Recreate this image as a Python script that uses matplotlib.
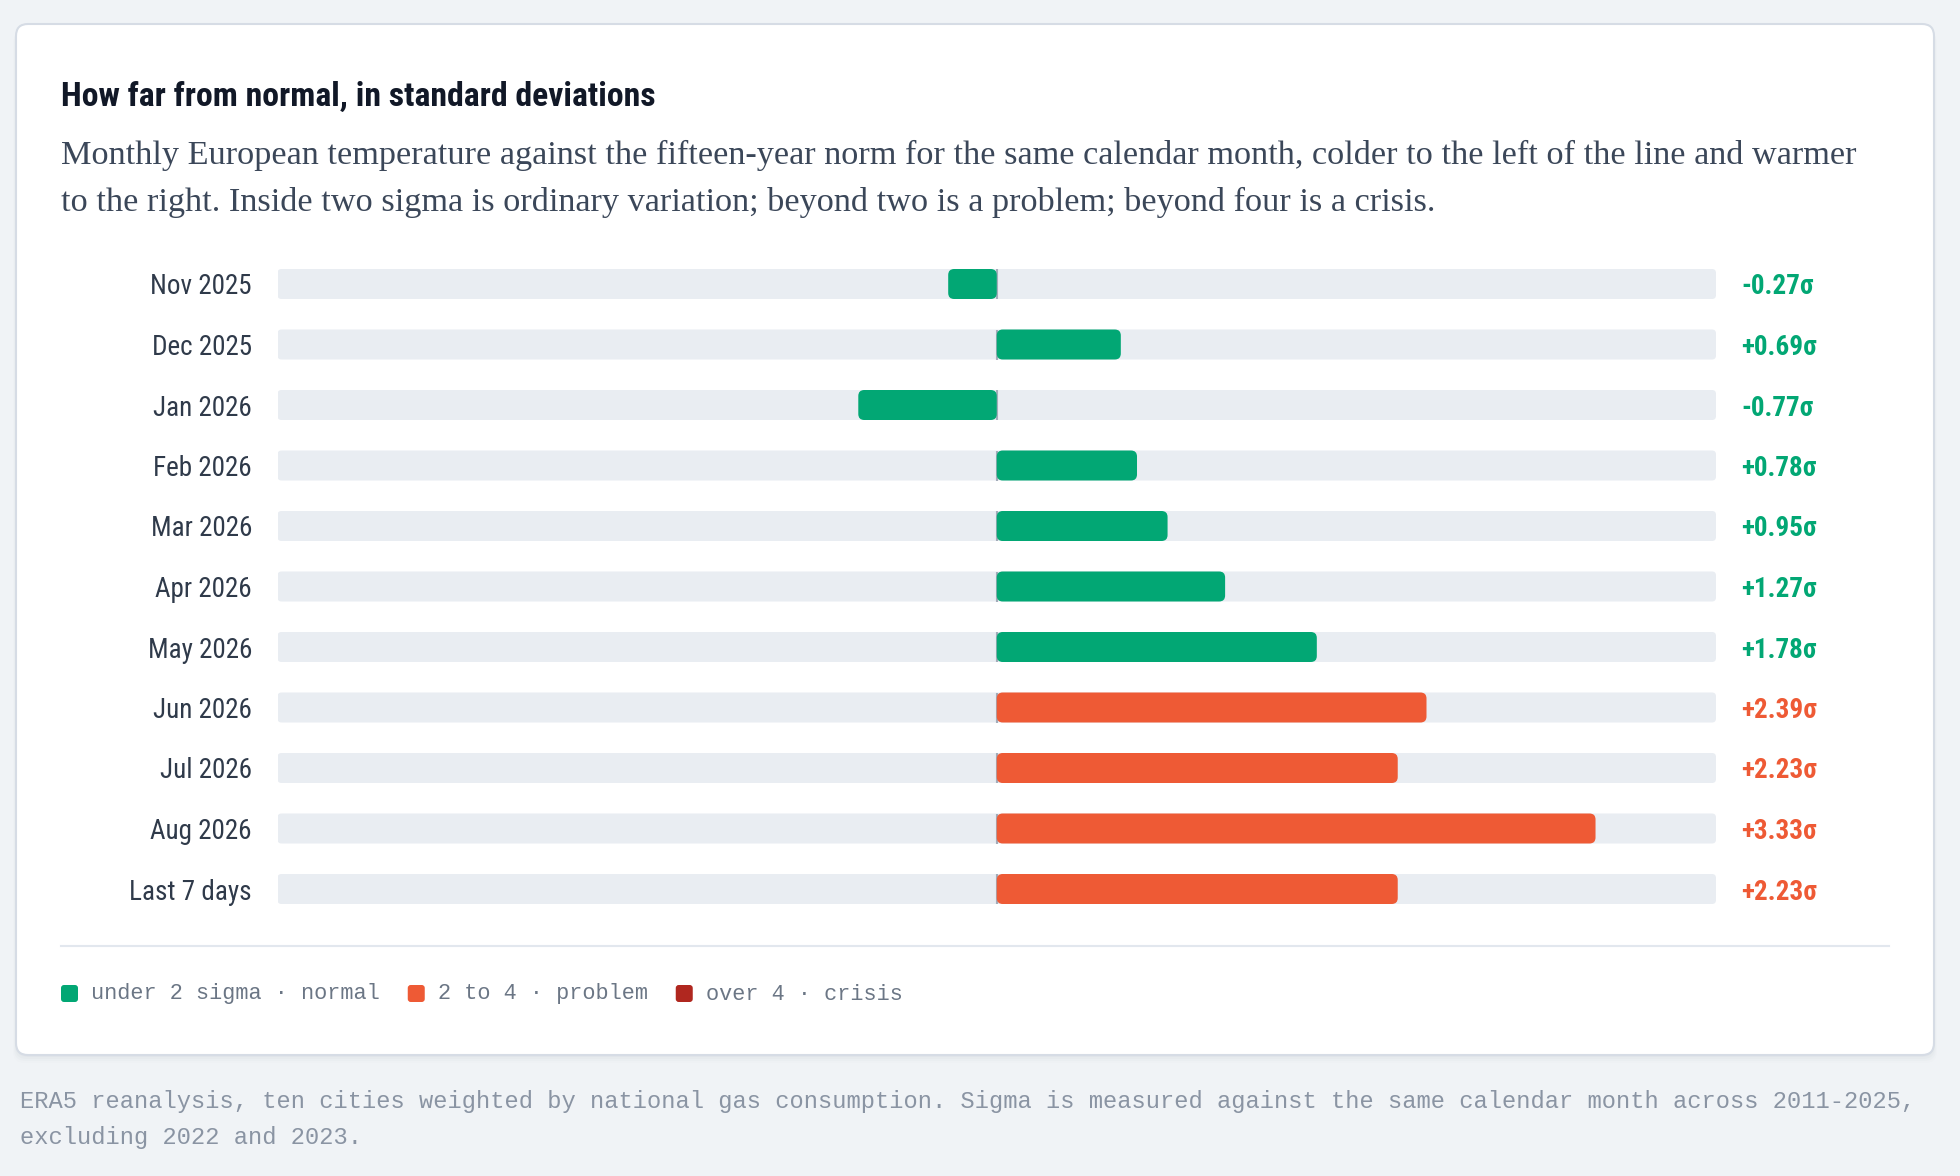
import matplotlib
matplotlib.use("Agg")
import matplotlib.pyplot as plt
from matplotlib import font_manager
from matplotlib.patches import FancyBboxPatch

# data
months = ["Nov 2025", "Dec 2025", "Jan 2026", "Feb 2026", "Mar 2026", "Apr 2026",
          "May 2026", "Jun 2026", "Jul 2026", "Aug 2026", "Last 7 days"]
sigma = [-0.27, 0.69, -0.77, 0.78, 0.95, 1.27, 1.78, 2.39, 2.23, 3.33, 2.23]
x_range = [-4, 4]
legend_labels = ["under 2 sigma \u00b7 normal", "2 to 4 \u00b7 problem", "over 4 \u00b7 crisis"]

title = "How far from normal, in standard deviations"
subtitle = ["Monthly European temperature against the fifteen-year norm for the same calendar month, colder to the left of the line and warmer",
            "to the right. Inside two sigma is ordinary variation; beyond two is a problem; beyond four is a crisis."]
footer = ["ERA5 reanalysis, ten cities weighted by national gas consumption. Sigma is measured against the same calendar month across 2011-2025,",
          "excluding 2022 and 2023."]

GREEN, ORANGE, RED = "#02a774", "#ee5a35", "#b0271f"
TRACK = "#e9edf2"

names = {f.name for f in font_manager.fontManager.ttflist}
cond = next((n for n in ["Roboto Condensed", "Liberation Sans Narrow", "Roboto"] if n in names), "DejaVu Sans")
serif = "Liberation Serif" if "Liberation Serif" in names else "DejaVu Serif"
mono = "Liberation Mono" if "Liberation Mono" in names else "DejaVu Sans Mono"


def col(v):
    a = abs(v)
    return GREEN if a < 2 else (ORANGE if a < 4 else RED)


W, H = 1960, 1176
fig = plt.figure(figsize=(W / 100, H / 100), dpi=100)
fig.patch.set_facecolor("#f0f3f6")

bg = fig.add_axes([0, 0, 1, 1])
bg.set_xlim(0, W)
bg.set_ylim(H, 0)
bg.axis("off")

# card with soft shadow
for i, a in enumerate([0.05, 0.04, 0.03, 0.02]):
    bg.add_patch(FancyBboxPatch((16 - i, 24 + 2 + i * 2), 1918 + 2 * i, 1031, boxstyle="round,pad=0,rounding_size=12",
                                fc="#8a97a8", ec="none", alpha=a, zorder=0))
bg.add_patch(FancyBboxPatch((16, 24), 1918, 1031, boxstyle="round,pad=0,rounding_size=12",
                            fc="white", ec="#d6dce5", lw=1.5, zorder=1))
bg.plot([61, 1889], [946, 946], color="#e2e7ee", lw=1.5, zorder=2)

fig.canvas.draw()
rend = fig.canvas.get_renderer()


def fit(t, width):
    for _ in range(2):
        bb = t.get_window_extent(rend)
        t.set_fontsize(t.get_fontsize() * width / bb.width)


t = bg.text(61, 106, title, fontsize=22, fontweight="bold", family=[cond, "DejaVu Sans"],
            color="#111827", va="baseline", zorder=3)
fit(t, 596)
s1 = bg.text(61, 164, subtitle[0], fontsize=20, family=serif, color="#3b4759", va="baseline", zorder=3)
fit(s1, 1795)
bg.text(61, 211, subtitle[1], fontsize=s1.get_fontsize(), family=serif, color="#3b4759", va="baseline", zorder=3)

f1 = bg.text(20, 1108, footer[0], fontsize=16, family=mono, color="#8a94a3", va="baseline", zorder=3)
fit(f1, 1892)
bg.text(20, 1144, footer[1], fontsize=f1.get_fontsize(), family=mono, color="#8a94a3", va="baseline", zorder=3)

# legend
x = 61
lsize = None
for lab, c in zip(legend_labels, [GREEN, ORANGE, RED]):
    bg.add_patch(FancyBboxPatch((x, 985), 17, 17, boxstyle="round,pad=0,rounding_size=3", fc=c, ec="none", zorder=3))
    lt = bg.text(x + 30, 994, lab, fontsize=15, family=mono, color="#6b7685", va="center", zorder=3)
    if lsize is None:
        fit(lt, 290)
        lsize = lt.get_fontsize()
    else:
        lt.set_fontsize(lsize)
    x = lt.get_window_extent(rend).x1 + 28

# bars axes
left, right = 277.5, 1716
top = 284 - 30.25
row_px = 60.5
ax_h = row_px * len(months)
ax = fig.add_axes([left / W, 1 - (top + ax_h) / H, (right - left) / W, ax_h / H])
ax.set_xlim(*x_range)
ax.set_ylim(len(months) - 0.5, -0.5)
ax.patch.set_alpha(0)
for sp in ax.spines.values():
    sp.set_visible(False)
ax.set_xticks([])
ax.set_yticks(range(len(months)))
ax.set_yticklabels(months, fontsize=19.5, family=[cond, "DejaVu Sans"], color="#2f3a4a")
ax.tick_params(axis="y", length=0, pad=18.4)

pxx = (right - left) / (x_range[1] - x_range[0])
asp = pxx / row_px
h = 30 / row_px
span = x_range[1] - x_range[0]
for i, v in enumerate(sigma):
    ax.add_patch(FancyBboxPatch((x_range[0], i - h / 2), span, h,
                                boxstyle=f"round,pad=0,rounding_size={4 / pxx}", mutation_aspect=asp,
                                fc=TRACK, ec="none", zorder=1))
    ax.vlines(0, i - h / 2, i + h / 2, color="#a3acb9", lw=1.5, zorder=2)
    ax.add_patch(FancyBboxPatch((min(0, v), i - h / 2), abs(v), h,
                                boxstyle=f"round,pad=0,rounding_size={6 / pxx}", mutation_aspect=asp,
                                fc=col(v), ec="none", zorder=3))
    ax.annotate(f"{v:+.2f}\u03c3", xy=(1, i), xycoords=ax.get_yaxis_transform(),
                xytext=(18, 0), textcoords="offset points", ha="left", va="center_baseline",
                fontsize=19.5, fontweight="bold", family=[cond, "DejaVu Sans"], color=col(v))

fig.savefig("out.png", dpi=100, facecolor=fig.get_facecolor())
